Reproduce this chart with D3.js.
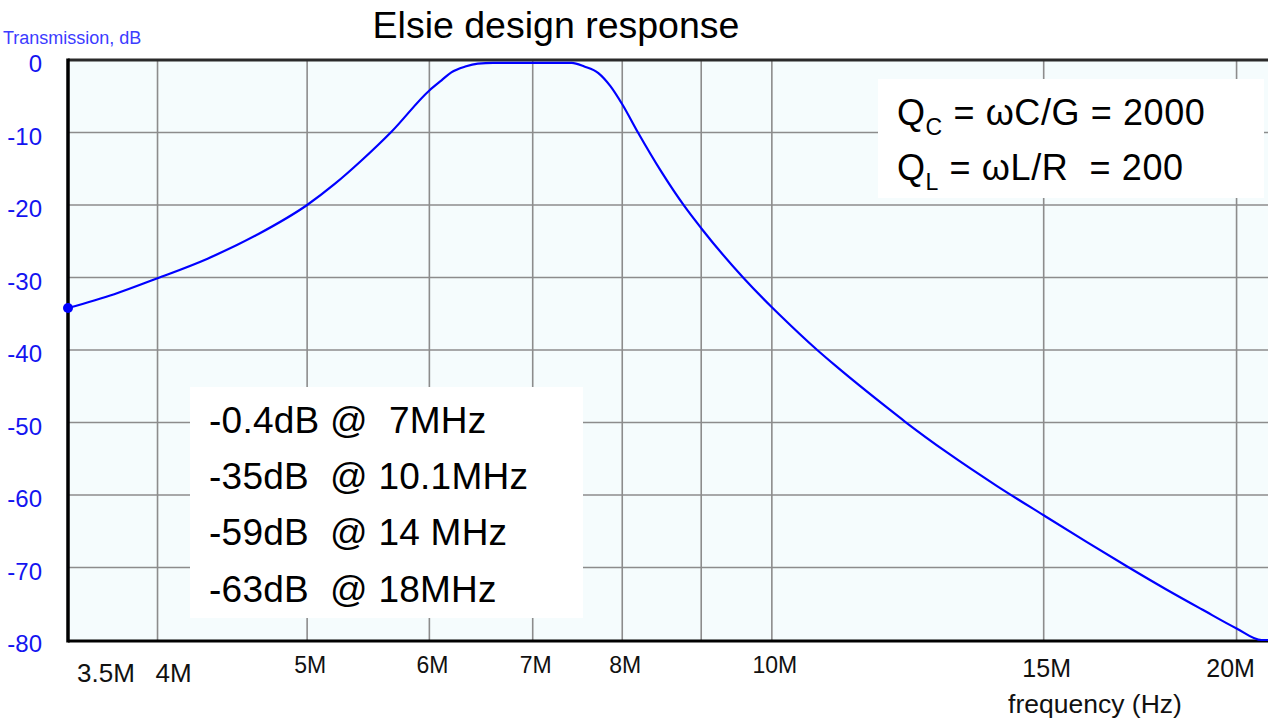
<!DOCTYPE html>
<html>
<head>
<meta charset="utf-8">
<script src="https://cdn.jsdelivr.net/npm/d3@7/dist/d3.min.js"></script>
<style>
  html, body { margin: 0; padding: 0; background: #ffffff; }
  svg { display: block; font-family: "Liberation Sans", Arial, Helvetica, sans-serif; }
  text { white-space: pre; }
</style>
</head>
<body>
<svg id="chart" width="1268" height="722"></svg>
<script>
// Simulated transmission of the Elsie band-pass filter design
const freqMHz = [3.5, 3.75, 4.0, 4.31, 4.65, 5.0, 5.21, 5.42, 5.67, 6.0, 6.11, 6.2, 6.33,
  6.45, 6.6, 7.0, 7.2, 7.42, 7.56, 7.72, 7.86, 8.0, 8.19, 8.48, 8.78, 9.0, 9.58, 10.0,
  10.1, 10.7, 11.0, 11.9, 12.2, 13.0, 14.0, 15.0, 16.0, 17.0, 18.0, 19.0, 20.0, 20.76, 20.96];
const transmissionDb = [-34.2, -32.3, -30.1, -27.4, -24.0, -20.0, -17.1, -13.9, -9.9, -4.2,
  -2.8, -1.7, -0.9, -0.5, -0.4, -0.4, -0.4, -0.4, -0.9, -1.8, -3.6, -6.1, -10.0, -15.4,
  -20.2, -23.2, -30.0, -34.1, -35.0, -40.0, -42.2, -48.1, -49.9, -54.2, -58.8, -62.8,
  -66.5, -69.9, -73.0, -75.8, -78.4, -80.0, -80.0];

const yTicks = [0, -10, -20, -30, -40, -50, -60, -70, -80];
const xGridMHz = [4, 5, 6, 7, 8, 9, 10, 15, 20];
const xTickMHz = [3.5, 4, 5, 6, 7, 8, 10, 15, 20];
const xTickLabels = ["3.5M", "4M", "5M", "6M", "7M", "8M", "10M", "15M", "20M"];

const noteLines = ["-0.4dB @  7MHz", "-35dB  @ 10.1MHz", "-59dB  @ 14 MHz", "-63dB  @ 18MHz"];
const qLines = [
  { q: "Q", sub: "C", rest: " = \u03C9C/G = 2000" },
  { q: "Q", sub: "L", rest: " = \u03C9L/R  = 200" }
];

const svg = d3.select("#chart");
const plotLeft = 68, plotRight = 1268, plotTop = 60, plotBottom = 640;

const x = d3.scaleLog().domain([3.5, 20.96]).range([plotLeft, plotRight]);
const y = d3.scaleLinear().domain([-80, 0]).range([plotBottom, plotTop]);

// plot background
svg.append("rect")
  .attr("x", plotLeft).attr("y", plotTop)
  .attr("width", plotRight - plotLeft).attr("height", plotBottom - plotTop)
  .attr("fill", "#f5fcfd");

// grid
const grid = svg.append("g").attr("stroke", "#8c8c8c").attr("stroke-width", 1.6);
grid.selectAll("line.h").data(yTicks.filter(d => d !== 0 && d !== -80)).join("line")
  .attr("class", "h")
  .attr("x1", plotLeft).attr("x2", plotRight)
  .attr("y1", d => y(d)).attr("y2", d => y(d));
grid.selectAll("line.v").data(xGridMHz).join("line")
  .attr("class", "v")
  .attr("x1", d => x(d)).attr("x2", d => x(d))
  .attr("y1", plotTop).attr("y2", plotBottom);

// frame: top, left and bottom edges
svg.append("line").attr("x1", plotLeft).attr("x2", plotRight).attr("y1", plotTop).attr("y2", plotTop)
  .attr("stroke", "#2a2a2a").attr("stroke-width", 3);
svg.append("line").attr("x1", plotLeft).attr("x2", plotRight).attr("y1", plotBottom + 1).attr("y2", plotBottom + 1)
  .attr("stroke", "#000").attr("stroke-width", 3);
svg.append("line").attr("x1", plotLeft).attr("x2", plotLeft).attr("y1", plotTop - 1.5).attr("y2", plotBottom + 2.5)
  .attr("stroke", "#000").attr("stroke-width", 3.5);

// annotation boxes
svg.append("rect").attr("x", 878).attr("y", 79).attr("width", 386).attr("height", 119).attr("fill", "#ffffff");
svg.append("rect").attr("x", 190).attr("y", 387).attr("width", 393).attr("height", 231).attr("fill", "#ffffff");

// response curve
const pts = freqMHz.map((f, i) => [f, transmissionDb[i]]);
const line = d3.line()
  .x(d => x(d[0]))
  .y(d => y(d[1]))
  .curve(d3.curveMonotoneX);
svg.append("path")
  .datum(pts)
  .attr("d", line)
  .attr("fill", "none")
  .attr("stroke", "#0000ff")
  .attr("stroke-width", 2.2)
  .attr("stroke-linejoin", "round");

// cursor marker at the start frequency
svg.append("circle")
  .attr("cx", x(freqMHz[0])).attr("cy", y(transmissionDb[0]))
  .attr("r", 5).attr("fill", "#0000ff");

// y axis labels
svg.append("g").selectAll("text").data(yTicks).join("text")
  .attr("x", 42)
  .attr("y", d => y(d) + 12)
  .attr("text-anchor", "end")
  .attr("font-size", 24)
  .attr("fill", "#1414f0")
  .text(d => d);

svg.append("text")
  .attr("x", 3).attr("y", 43.5)
  .attr("font-size", 18)
  .attr("fill", "#3c3cff")
  .text("Transmission, dB");

// x axis labels
const xLabelLayout = {
  "3.5M": { anchor: "start", dx: 9, size: 26, base: 682 },
  "4M": { anchor: "start", dx: -2, size: 26, base: 682 },
  "15M": { anchor: "middle", dx: 3, size: 25, base: 677 },
  "20M": { anchor: "middle", dx: -6, size: 25, base: 677 }
};
svg.append("g").selectAll("text").data(xTickMHz).join("text")
  .each(function (d, i) {
    const lab = xTickLabels[i];
    const lay = xLabelLayout[lab] || { anchor: "middle", dx: 3, size: 23, base: 673 };
    d3.select(this)
      .attr("x", x(d) + lay.dx)
      .attr("y", lay.base)
      .attr("text-anchor", lay.anchor)
      .attr("font-size", lay.size)
      .attr("fill", "#111")
      .text(lab);
  });

svg.append("text")
  .attr("x", 1095).attr("y", 713)
  .attr("text-anchor", "middle")
  .attr("font-size", 26.5)
  .attr("fill", "#111")
  .text("frequency (Hz)");

// title
svg.append("text")
  .attr("x", 556).attr("y", 38)
  .attr("text-anchor", "middle")
  .attr("font-size", 37.5)
  .attr("fill", "#000")
  .text("Elsie design response");

// Q factor notes
const qText = svg.append("g").attr("font-size", 36).attr("letter-spacing", 0.6).attr("fill", "#000");
qLines.forEach((l, i) => {
  const t = qText.append("text").attr("x", 897).attr("y", 125 + i * 55);
  t.append("tspan").text(l.q);
  t.append("tspan").attr("font-size", 23).attr("dy", 10).text(l.sub);
  t.append("tspan").attr("dy", -10).text(l.rest);
});

// measured attenuation notes
svg.append("g").attr("font-size", 37).attr("letter-spacing", 0.25).attr("fill", "#000")
  .selectAll("text").data(noteLines).join("text")
  .attr("x", 209)
  .attr("y", (d, i) => 433 + i * 56.2)
  .text(d => d);
</script>
</body>
</html>
